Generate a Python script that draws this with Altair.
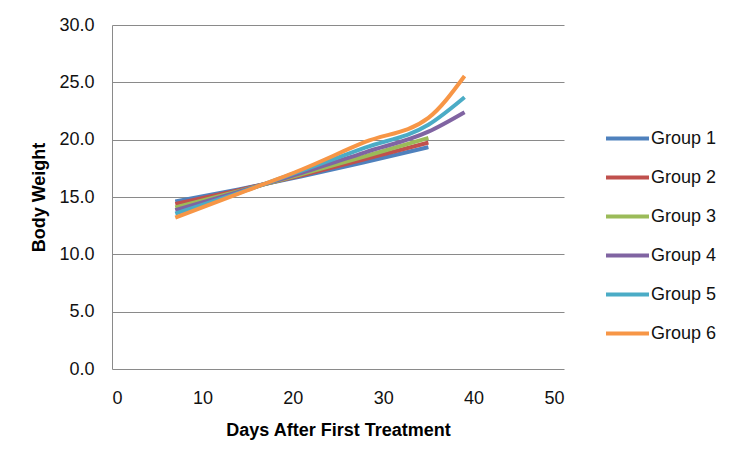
import altair as alt
import pandas as pd

days_short = [7, 14, 21, 28, 35]
days_long = [7, 14, 21, 28, 35, 39]

groups = ["Group 1", "Group 2", "Group 3", "Group 4", "Group 5", "Group 6"]
group1 = [14.6, 15.65, 16.8, 18.05, 19.35]
group2 = [14.4, 15.6, 16.9, 18.3, 19.75]
group3 = [14.1, 15.5, 17.0, 18.55, 20.15]
group4 = [13.85, 15.45, 17.1, 18.9, 20.7, 22.4]
group5 = [13.55, 15.35, 17.3, 19.3, 21.3, 23.7]
group6 = [13.2, 15.3, 17.4, 19.8, 21.9, 25.55]
colors = ["#4F81BD", "#C0504D", "#9BBB59", "#8064A2", "#4BACC6", "#F79646"]

series = [group1, group2, group3, group4, group5, group6]
rows = []
for name, vals in zip(groups, series):
    dd = days_short if len(vals) == 5 else days_long
    for d, v in zip(dd, vals):
        rows.append({"Day": d, "Weight": v, "Group": name})
df = pd.DataFrame(rows)

FONT = "Liberation Sans"

chart = (
    alt.Chart(df)
    .mark_line(interpolate="monotone", strokeWidth=4)
    .encode(
        x=alt.X(
            "Day:Q",
            scale=alt.Scale(domain=[0, 50], nice=False),
            axis=alt.Axis(
                title="Days After First Treatment",
                values=[0, 10, 20, 30, 40, 50],
                grid=False,
                ticks=False,
                domain=False,
                labelPadding=20,
                titlePadding=14,
            ),
        ),
        y=alt.Y(
            "Weight:Q",
            scale=alt.Scale(domain=[0, 30], nice=False),
            axis=alt.Axis(
                title="Body Weight",
                values=[0, 5, 10, 15, 20, 25, 30],
                format=".1f",
                ticks=False,
                labelPadding=18,
                titlePadding=10,
                domainColor="#8A8A8A",
                gridColor="#8A8A8A",
            ),
        ),
        color=alt.Color(
            "Group:N",
            scale=alt.Scale(domain=groups, range=colors),
            legend=alt.Legend(
                title=None,
                orient="none",
                legendX=492,
                legendY=90,
                symbolType="stroke",
                symbolSize=1849,
                symbolStrokeWidth=4,
                labelOffset=0,
                rowPadding=6,
            ),
        ),
    )
    .properties(
        width=452,
        height=344,
        autosize=alt.AutoSizeParams(type="none"),
        padding={"left": 104, "top": 17, "right": 168, "bottom": 94},
    )
    .configure(font=FONT)
    .configure_view(stroke=None)
    .configure_axis(
        labelFont=FONT,
        labelFontSize=18,
        labelColor="#111111",
        titleFont=FONT,
        titleFontSize=18,
        titleFontWeight="bold",
        titleColor="#000000",
        gridColor="#8A8A8A",
        gridWidth=1,
        domainColor="#8A8A8A",
    )
    .configure_legend(
        labelFont=FONT,
        labelFontSize=18,
        labelColor="#111111",
    )
)

chart.save("out.html", embed_options={"renderer": "svg", "actions": False})
